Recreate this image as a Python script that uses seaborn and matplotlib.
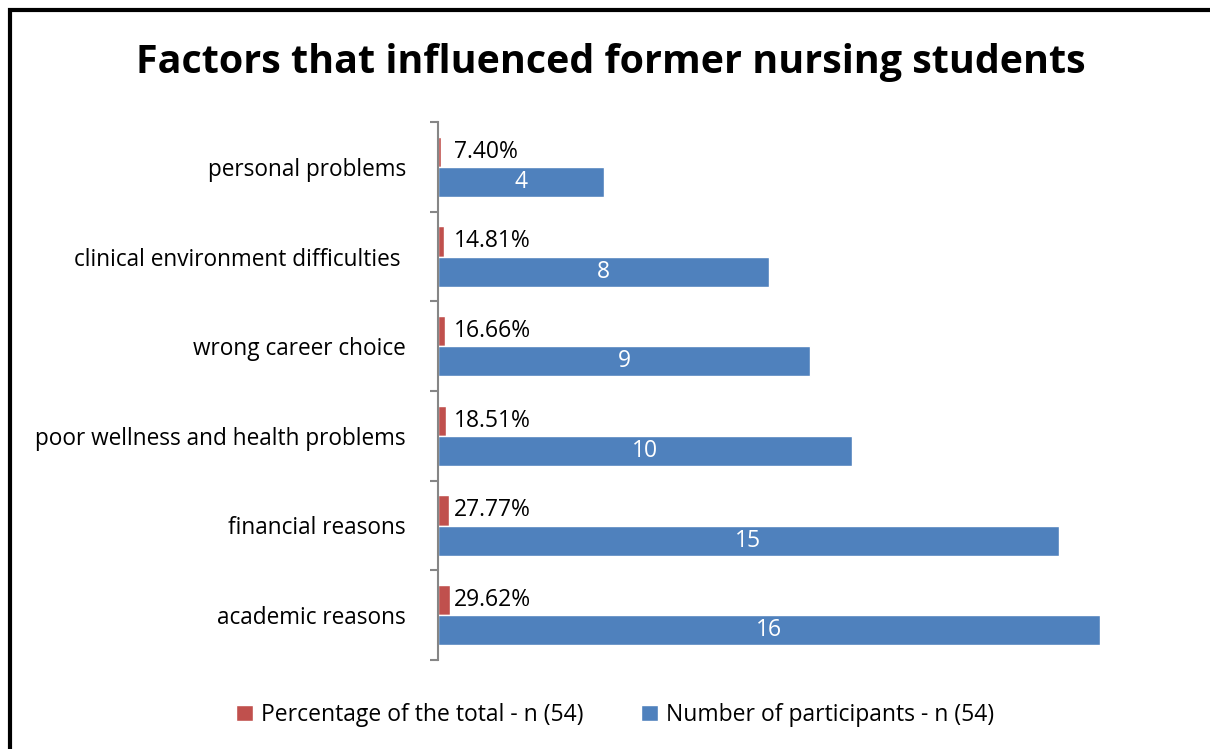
import seaborn as sns
import matplotlib.pyplot as plt
import matplotlib.patches as mpatches
import pandas as pd

sns.set_style('white')
plt.rcParams['font.family'] = ['Open Sans', 'DejaVu Sans']
plt.rcParams['text.color'] = 'black'

# data (top to bottom as in the chart)
factors = ['personal problems', 'clinical environment difficulties ', 'wrong career choice',
           'poor wellness and health problems', 'financial reasons', 'academic reasons']
participants = [4, 8, 9, 10, 15, 16]
percent = [7.40, 14.81, 16.66, 18.51, 27.77, 29.62]
pct_labels = ['7.40%', '14.81%', '16.66%', '18.51%', '27.77%', '29.62%']

series_pct = 'Percentage of the total - n (54)'
series_num = 'Number of participants - n (54)'

df = pd.DataFrame({
    'factor': factors * 2,
    'value': [p / 100 for p in percent] + participants,
    'series': [series_pct] * 6 + [series_num] * 6,
})

fig = plt.figure(figsize=(12.1, 7.49), dpi=100)
ax = fig.add_axes([438 / 1210, 1 - 660 / 749, (1100 - 438) / 1210, (660 - 122) / 749])

sns.barplot(data=df, y='factor', x='value', hue='series', order=factors,
            hue_order=[series_pct, series_num], palette=['#C0504D', '#4F81BD'],
            saturation=1, width=0.67, orient='h', ax=ax, legend=True)

ax.set_xlim(0, 16)
ax.set_ylim(5.5, -0.5)
ax.set_xlabel('')
ax.set_ylabel('')
ax.set_xticks([])

# value labels
red_bars, blue_bars = ax.containers[0], ax.containers[1]
for bar, lab in zip(red_bars, pct_labels):
    ax.annotate(lab, (0, bar.get_y() + bar.get_height() / 2), xytext=(16, 0),
                textcoords='offset pixels', ha='left', va='center', fontsize=16.5, color='black')
ax.bar_label(blue_bars, labels=[str(v) for v in participants], label_type='center',
             color='white', fontsize=16.5)

# axis styling
for s in ['top', 'right', 'bottom']:
    ax.spines[s].set_visible(False)
ax.spines['left'].set_color('#868686')
ax.spines['left'].set_linewidth(1.5)
ax.set_yticks(range(len(factors)))
ax.set_yticklabels(factors, fontsize=16.3, color='black')
ax.tick_params(axis='y', which='major', left=False, length=0, pad=23)
ax.set_yticks([i - 0.5 for i in range(len(factors) + 1)], minor=True)
ax.tick_params(axis='y', which='minor', left=True, length=6, width=1.5,
               color='#868686', direction='out')

# legend
handles, labels = ax.get_legend_handles_labels()
ax.get_legend().remove()
fig.legend(handles, labels, loc='center', bbox_to_anchor=(0.508, 1 - 715 / 749), ncol=2,
           frameon=False, fontsize=16.5, handlelength=0.75, handleheight=0.75,
           handletextpad=0.35, columnspacing=2.5, labelcolor='black')

fig.text(0.505, 1 - 63 / 749, 'Factors that influenced former nursing students',
         ha='center', va='center', fontsize=28.4, fontweight='bold', color='black')

# outer frame
fig.patches.append(mpatches.Rectangle((10 / 1210, -0.1), 1.2, 1 - 10 / 749 + 0.1, fill=False,
                                      edgecolor='black', linewidth=3, transform=fig.transFigure))

fig.savefig('out.png', dpi=100)
